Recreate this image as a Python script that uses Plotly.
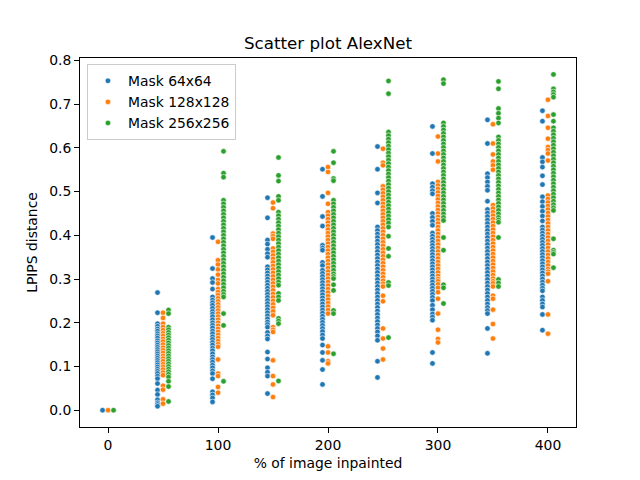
import plotly.graph_objects as go

x_groups = [0, 50, 100, 150, 200, 250, 300, 350, 400]
mask_labels = ["Mask 64x64", "Mask 128x128", "Mask 256x256"]
mask_colors = ["#1f77b4", "#ff7f0e", "#2ca02c"]
x_ticks = [0, 100, 200, 300, 400]
y_ticks = [0.0, 0.1, 0.2, 0.3, 0.4, 0.5, 0.6, 0.7, 0.8]

# ---- Mask 64x64 ----
m64_000 = [0.0]
m64_050 = [0.269, 0.223, 0.198, 0.192, 0.186, 0.181, 0.175, 0.170, 0.165, 0.159, 0.154, 0.149, 0.144, 0.139,
           0.134, 0.129, 0.124, 0.119, 0.114, 0.109, 0.104, 0.099, 0.094, 0.089, 0.084, 0.078, 0.072, 0.061,
           0.046, 0.036, 0.024, 0.017, 0.013, 0.009]
m64_100 = [0.395, 0.324, 0.301, 0.292, 0.277, 0.259, 0.252, 0.246, 0.240, 0.233, 0.226, 0.220, 0.214, 0.207,
           0.200, 0.194, 0.188, 0.181, 0.175, 0.168, 0.162, 0.155, 0.149, 0.142, 0.136, 0.129, 0.122, 0.116,
           0.110, 0.103, 0.097, 0.090, 0.084, 0.072, 0.042, 0.035, 0.028, 0.019]
m64_150 = [0.486, 0.440, 0.389, 0.380, 0.368, 0.358, 0.350, 0.328, 0.321, 0.314, 0.307, 0.300, 0.293, 0.286,
           0.279, 0.272, 0.265, 0.258, 0.251, 0.244, 0.237, 0.230, 0.223, 0.216, 0.209, 0.202, 0.196, 0.190,
           0.178, 0.170, 0.163, 0.133, 0.117, 0.097, 0.087, 0.078, 0.038]
m64_200 = [0.551, 0.489, 0.443, 0.421, 0.377, 0.371, 0.366, 0.338, 0.331, 0.320, 0.313, 0.306, 0.299, 0.292,
           0.285, 0.278, 0.271, 0.264, 0.257, 0.250, 0.243, 0.236, 0.229, 0.222, 0.215, 0.208, 0.201, 0.194,
           0.187, 0.180, 0.172, 0.164, 0.149, 0.132, 0.114, 0.093, 0.059]
m64_250 = [0.603, 0.551, 0.497, 0.474, 0.419, 0.411, 0.403, 0.395, 0.387, 0.379, 0.371, 0.363, 0.355, 0.347,
           0.339, 0.331, 0.323, 0.315, 0.307, 0.299, 0.291, 0.283, 0.275, 0.267, 0.259, 0.251, 0.243, 0.235,
           0.227, 0.219, 0.211, 0.203, 0.195, 0.187, 0.179, 0.170, 0.160, 0.112, 0.075]
m64_300 = [0.649, 0.587, 0.518, 0.510, 0.502, 0.495, 0.450, 0.441, 0.432, 0.423, 0.405, 0.398, 0.391, 0.384,
           0.377, 0.370, 0.363, 0.356, 0.349, 0.342, 0.335, 0.328, 0.321, 0.314, 0.307, 0.300, 0.293, 0.286,
           0.279, 0.272, 0.265, 0.258, 0.251, 0.240, 0.230, 0.220, 0.213, 0.206, 0.132, 0.107]
m64_350 = [0.664, 0.610, 0.541, 0.532, 0.522, 0.512, 0.503, 0.478, 0.459, 0.451, 0.443, 0.435, 0.427, 0.419,
           0.411, 0.403, 0.395, 0.387, 0.379, 0.371, 0.363, 0.355, 0.347, 0.339, 0.331, 0.323, 0.315, 0.307,
           0.299, 0.291, 0.283, 0.275, 0.267, 0.259, 0.251, 0.243, 0.235, 0.228, 0.221, 0.187, 0.130]
m64_400 = [0.685, 0.661, 0.578, 0.568, 0.556, 0.536, 0.516, 0.488, 0.477, 0.466, 0.455, 0.444, 0.433, 0.419,
           0.412, 0.405, 0.398, 0.391, 0.384, 0.377, 0.370, 0.363, 0.356, 0.349, 0.342, 0.335, 0.328, 0.321,
           0.314, 0.307, 0.300, 0.293, 0.286, 0.279, 0.273, 0.259, 0.251, 0.243, 0.236, 0.219, 0.183]

# ---- Mask 128x128 ----
m128_000 = [0.0]
m128_050 = [0.223, 0.211, 0.198, 0.190, 0.183, 0.176, 0.170, 0.163, 0.157, 0.150, 0.143, 0.137, 0.131, 0.124,
            0.118, 0.112, 0.105, 0.099, 0.093, 0.086, 0.080, 0.056, 0.047, 0.025, 0.015]
m128_100 = [0.385, 0.343, 0.333, 0.322, 0.310, 0.298, 0.290, 0.277, 0.270, 0.263, 0.256, 0.249, 0.242, 0.235,
            0.228, 0.221, 0.214, 0.207, 0.200, 0.193, 0.186, 0.179, 0.172, 0.165, 0.158, 0.151, 0.145, 0.116,
            0.084, 0.078, 0.053, 0.040]
m128_150 = [0.475, 0.462, 0.404, 0.398, 0.392, 0.370, 0.362, 0.354, 0.346, 0.338, 0.330, 0.322, 0.314, 0.306,
            0.298, 0.290, 0.282, 0.274, 0.266, 0.258, 0.250, 0.242, 0.234, 0.226, 0.217, 0.190, 0.184, 0.179,
            0.114, 0.078, 0.059, 0.030]
m128_200 = [0.556, 0.545, 0.497, 0.472, 0.453, 0.445, 0.437, 0.429, 0.421, 0.413, 0.405, 0.397, 0.389, 0.381,
            0.373, 0.365, 0.357, 0.349, 0.341, 0.333, 0.325, 0.317, 0.309, 0.301, 0.293, 0.285, 0.277, 0.269,
            0.261, 0.253, 0.245, 0.237, 0.229, 0.221, 0.146, 0.132, 0.112, 0.107]
m128_250 = [0.598, 0.566, 0.560, 0.512, 0.504, 0.496, 0.488, 0.480, 0.472, 0.464, 0.456, 0.448, 0.440, 0.432,
            0.424, 0.416, 0.408, 0.400, 0.392, 0.384, 0.376, 0.368, 0.360, 0.352, 0.344, 0.336, 0.328, 0.320,
            0.312, 0.304, 0.296, 0.289, 0.283, 0.262, 0.249, 0.187, 0.164, 0.141, 0.116]
m128_300 = [0.626, 0.587, 0.569, 0.522, 0.514, 0.506, 0.498, 0.490, 0.482, 0.474, 0.466, 0.458, 0.450, 0.442,
            0.435, 0.427, 0.419, 0.411, 0.403, 0.395, 0.387, 0.379, 0.371, 0.363, 0.355, 0.347, 0.339, 0.331,
            0.323, 0.315, 0.307, 0.300, 0.295, 0.288, 0.280, 0.270, 0.255, 0.221, 0.184, 0.163, 0.155]
m128_350 = [0.654, 0.610, 0.585, 0.569, 0.560, 0.550, 0.469, 0.461, 0.453, 0.445, 0.437, 0.429, 0.421, 0.413,
            0.405, 0.397, 0.389, 0.381, 0.373, 0.365, 0.357, 0.349, 0.341, 0.333, 0.325, 0.317, 0.309, 0.301,
            0.295, 0.290, 0.283, 0.262, 0.255, 0.230, 0.197, 0.164]
m128_400 = [0.710, 0.673, 0.646, 0.621, 0.602, 0.595, 0.587, 0.571, 0.491, 0.483, 0.475, 0.467, 0.459, 0.451,
            0.443, 0.435, 0.427, 0.419, 0.411, 0.403, 0.395, 0.387, 0.379, 0.371, 0.363, 0.355, 0.347, 0.339,
            0.331, 0.323, 0.317, 0.312, 0.295, 0.219, 0.175]

# ---- Mask 256x256 ----
m256_000 = [0.0]
m256_050 = [0.229, 0.221, 0.190, 0.184, 0.178, 0.172, 0.166, 0.160, 0.154, 0.148, 0.142, 0.136, 0.130, 0.124,
            0.118, 0.112, 0.106, 0.100, 0.094, 0.088, 0.082, 0.076, 0.066, 0.054, 0.020]
m256_100 = [0.592, 0.542, 0.533, 0.480, 0.472, 0.464, 0.456, 0.448, 0.440, 0.432, 0.424, 0.416, 0.408, 0.400,
            0.392, 0.384, 0.376, 0.368, 0.360, 0.352, 0.344, 0.336, 0.328, 0.320, 0.312, 0.304, 0.296, 0.288,
            0.280, 0.272, 0.265, 0.259, 0.221, 0.194, 0.066]
m256_150 = [0.578, 0.537, 0.524, 0.489, 0.480, 0.453, 0.445, 0.437, 0.429, 0.421, 0.413, 0.405, 0.397, 0.389,
            0.381, 0.373, 0.365, 0.357, 0.349, 0.341, 0.333, 0.325, 0.317, 0.309, 0.301, 0.293, 0.286, 0.267,
            0.259, 0.251, 0.210, 0.204, 0.198, 0.067]
m256_200 = [0.592, 0.566, 0.530, 0.525, 0.480, 0.472, 0.464, 0.456, 0.448, 0.440, 0.432, 0.424, 0.416, 0.408,
            0.400, 0.392, 0.384, 0.376, 0.368, 0.360, 0.352, 0.344, 0.336, 0.328, 0.320, 0.312, 0.306, 0.301,
            0.287, 0.274, 0.228, 0.221, 0.129]
m256_250 = [0.753, 0.724, 0.636, 0.628, 0.620, 0.612, 0.604, 0.596, 0.588, 0.580, 0.572, 0.564, 0.556, 0.548,
            0.540, 0.532, 0.524, 0.516, 0.508, 0.500, 0.492, 0.484, 0.476, 0.468, 0.460, 0.452, 0.444, 0.436,
            0.428, 0.419, 0.398, 0.370, 0.352, 0.292, 0.285, 0.166]
m256_300 = [0.756, 0.747, 0.657, 0.649, 0.641, 0.633, 0.625, 0.617, 0.609, 0.601, 0.593, 0.585, 0.577, 0.569,
            0.561, 0.553, 0.545, 0.537, 0.529, 0.521, 0.513, 0.505, 0.497, 0.489, 0.481, 0.473, 0.465, 0.457,
            0.449, 0.441, 0.434, 0.395, 0.366, 0.287, 0.280, 0.244]
m256_350 = [0.752, 0.735, 0.690, 0.679, 0.668, 0.657, 0.625, 0.617, 0.609, 0.601, 0.593, 0.585, 0.577, 0.569,
            0.561, 0.553, 0.545, 0.537, 0.529, 0.521, 0.513, 0.505, 0.497, 0.489, 0.481, 0.473, 0.465, 0.457,
            0.449, 0.441, 0.435, 0.430, 0.395, 0.299, 0.291, 0.283]
m256_400 = [0.768, 0.735, 0.728, 0.722, 0.716, 0.676, 0.661, 0.646, 0.638, 0.630, 0.622, 0.614, 0.606, 0.598,
            0.590, 0.582, 0.574, 0.566, 0.558, 0.550, 0.542, 0.534, 0.526, 0.518, 0.510, 0.502, 0.494, 0.486,
            0.478, 0.470, 0.463, 0.457, 0.392, 0.366, 0.361, 0.357, 0.326]

series_64 = [m64_000, m64_050, m64_100, m64_150, m64_200, m64_250, m64_300, m64_350, m64_400]
series_128 = [m128_000, m128_050, m128_100, m128_150, m128_200, m128_250, m128_300, m128_350, m128_400]
series_256 = [m256_000, m256_050, m256_100, m256_150, m256_200, m256_250, m256_300, m256_350, m256_400]
all_series = [series_64, series_128, series_256]
dodge = [-5, 0, 5]

fig = go.Figure()
for label, color, series, off in zip(mask_labels, mask_colors, all_series, dodge):
    xs, ys = [], []
    for xg, vals in zip(x_groups, series):
        xs += [xg + off] * len(vals)
        ys += vals
    fig.add_trace(go.Scatter(
        x=xs, y=ys, mode="markers", name=label,
        marker=dict(color=color, size=5.5, line=dict(color="white", width=0.6)),
    ))

FONT = "DejaVu Sans"
FS = 13.9
axis_common = dict(
    showline=True, linecolor="black", linewidth=1, mirror=True,
    ticks="outside", ticklen=5, tickwidth=1, tickcolor="black",
    showgrid=False, zeroline=False,
    tickfont=dict(family=FONT, size=FS, color="black"),
)
# page body adds an 8px offset, so margins are shifted by 8px
fig.update_layout(
    width=640, height=480,
    margin=dict(l=72, r=72, t=50, b=61),
    paper_bgcolor="white", plot_bgcolor="white",
    font=dict(family=FONT, size=FS, color="black"),
    title=dict(text="Scatter plot AlexNet", x=0.5, xref="paper", xanchor="center",
               y=1 - 35 / 480, yref="container", yanchor="middle",
               font=dict(family=FONT, size=16.7, color="black")),
    xaxis=dict(range=[-25.5, 425.5], tickvals=x_ticks,
               title=dict(text="% of image inpainted", standoff=6,
                          font=dict(family=FONT, size=FS, color="black")),
               **axis_common),
    yaxis=dict(range=[-0.0384, 0.8055], tickvals=y_ticks, tickformat=".1f",
               title=dict(text="LPIPS distance", standoff=8,
                          font=dict(family=FONT, size=FS, color="black")),
               **axis_common),
    legend=dict(x=0.014, y=0.983, xanchor="left", yanchor="top",
                bgcolor="rgba(255,255,255,0.8)", bordercolor="#cccccc", borderwidth=1,
                font=dict(family=FONT, size=FS, color="black")),
    showlegend=True,
)

fig.write_html("out.html")
